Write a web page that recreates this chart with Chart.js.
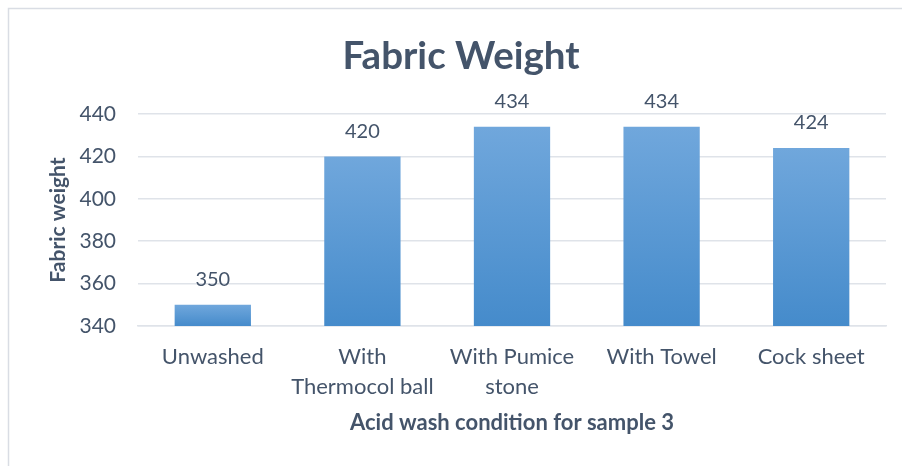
<!DOCTYPE html>
<html>
<head>
<meta charset="utf-8">
<script src="https://cdn.jsdelivr.net/npm/chart.js@4"></script>
<style>
  html, body { margin: 0; padding: 0; background: #fff; }
  #wrap { width: 902px; height: 466px; }
</style>
</head>
<body>
<div id="wrap"><canvas id="myChart"></canvas></div>
<script>
const conditions = [
  "Unwashed",
  ["With", "Thermocol ball"],
  ["With Pumice", "stone"],
  "With Towel",
  "Cock sheet",
];
const fabricWeight = [350, 420, 434, 434, 424];
const yTicks = [340, 360, 380, 400, 420, 440];

const textColor = "#44546a";
const gridColor = "#dfe3e9";

// outer frame, right and bottom edges fall outside the picture
const framePlugin = {
  id: "frame",
  beforeDraw: (chart) => {
    const { ctx } = chart;
    ctx.save();
    ctx.fillStyle = "#fff";
    ctx.fillRect(0, 0, chart.width, chart.height);
    ctx.strokeStyle = "#d9dde4";
    ctx.lineWidth = 1.5;
    ctx.strokeRect(8.5, 8.5, chart.width + 20, chart.height + 20);
    ctx.restore();
  },
  // the title sits a bit right of the canvas centre
  afterLayout: (chart) => {
    if (chart.titleBlock) {
      chart.titleBlock.left = 36;
      chart.titleBlock.right = 886;
    }
  },
};

// value labels above each bar
const valueLabels = {
  id: "valueLabels",
  afterDatasetsDraw: (chart) => {
    const { ctx } = chart;
    const meta = chart.getDatasetMeta(0);
    ctx.save();
    ctx.font = "20px Lato";
    ctx.fillStyle = textColor;
    ctx.textAlign = "center";
    ctx.textBaseline = "middle";
    meta.data.forEach((bar, i) => {
      ctx.fillText(String(fabricWeight[i]), bar.x, bar.y - 25);
    });
    ctx.restore();
  },
};

function barGradient(context) {
  const chart = context.chart;
  const y = chart.scales.y;
  if (!y || context.dataIndex === undefined) return "#5b9bd5";
  const top = y.getPixelForValue(fabricWeight[context.dataIndex]);
  const bottom = y.getPixelForValue(yTicks[0]);
  if (!isFinite(top) || !isFinite(bottom) || top === bottom) return "#5b9bd5";
  const g = chart.ctx.createLinearGradient(0, top, 0, bottom);
  g.addColorStop(0, "#70a7dc");
  g.addColorStop(1, "#458bcb");
  return g;
}

new Chart(document.getElementById("myChart"), {
  type: "bar",
  data: {
    labels: conditions,
    datasets: [
      {
        label: "Fabric weight",
        data: fabricWeight,
        backgroundColor: barGradient,
        borderWidth: 0,
        categoryPercentage: 1,
        barPercentage: 0.51,
      },
    ],
  },
  options: {
    responsive: true,
    maintainAspectRatio: false,
    animation: false,
    layout: { padding: { left: 0, right: 16, top: 0, bottom: 0 } },
    plugins: {
      legend: { display: false },
      tooltip: { enabled: false },
      title: {
        display: true,
        text: "Fabric Weight",
        color: textColor,
        font: { family: "Lato", size: 38.5, weight: "bold", lineHeight: 1.2 },
        padding: { top: 33, bottom: 34.8 },
      },
    },
    scales: {
      y: {
        min: 340,
        max: 440,
        afterBuildTicks: (scale) => {
          scale.ticks = yTicks.map((v) => ({ value: v }));
        },
        afterFit: (scale) => {
          scale.width = 138;
        },
        border: { display: false },
        grid: { color: gridColor, lineWidth: 1.5, drawTicks: false },
        ticks: {
          color: textColor,
          font: { family: "Lato", size: 21 },
          padding: 22,
        },
        title: {
          display: true,
          text: "Fabric weight",
          color: textColor,
          font: { family: "Lato", size: 21, weight: "bold", lineHeight: 1.2 },
          padding: { top: 46, bottom: 46 },
        },
      },
      x: {
        afterFit: (scale) => {
          scale.height = 140;
        },
        border: { color: gridColor, width: 1.5 },
        grid: { display: false, drawTicks: false },
        ticks: {
          color: textColor,
          font: { family: "Lato", size: 22, lineHeight: 1.36 },
          padding: 16,
          maxRotation: 0,
          autoSkip: false,
        },
        title: {
          display: true,
          text: "Acid wash condition for sample 3",
          color: textColor,
          font: { family: "Lato", size: 22, weight: "bold", lineHeight: 1.2 },
          padding: { top: 30, bottom: 30 },
        },
      },
    },
  },
  plugins: [framePlugin, valueLabels],
});
</script>
</body>
</html>
